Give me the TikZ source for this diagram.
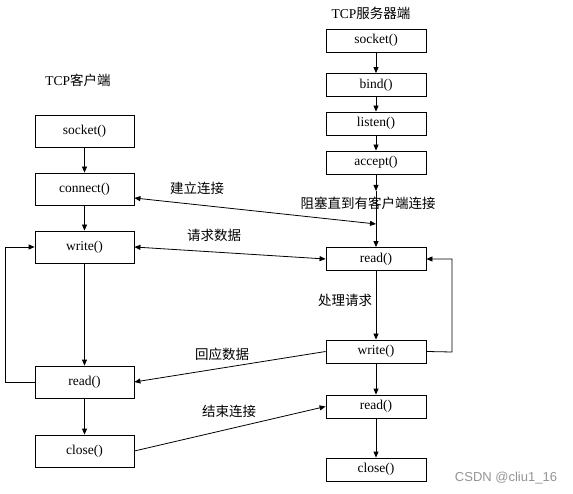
\documentclass[tikz,border=0pt]{standalone}
\usepackage{fontspec}
\setmainfont{Liberation Serif}
\newfontfamily\cjk{Noto Sans CJK SC}
\newfontfamily\wmfont{Liberation Sans}
\usetikzlibrary{arrows.meta,calc}
\begin{document}
\begin{tikzpicture}[x=1pt,y=-1pt,
  line width=0.8pt,
  tip/.style={-{Triangle[length=6pt,width=5pt]}},
  tips/.style={{Triangle[length=6pt,width=5pt]}-{Triangle[length=6pt,width=5pt]}},
  cbox/.style={draw,minimum width=99pt,minimum height=32pt,inner sep=0pt,font=\fontsize{13.5}{15}\selectfont},
  sbox/.style={draw,minimum width=100pt,minimum height=23pt,inner sep=0pt,font=\fontsize{13.5}{15}\selectfont},
  lbl/.style={inner sep=0pt,font=\fontsize{13.5}{15}\selectfont}]
\useasboundingbox (0,0) rectangle (573,494);
% client
\node[lbl] (ctitle) at (78,80) {TCP{\cjk 客户端}};
\node[cbox] (csocket) at (84.5,131) {socket()};
\node[cbox] (cconnect) at (84.5,189) {connect()};
\node[cbox] (cwrite) at (84.5,247) {write()};
\node[cbox] (cread) at (84.5,382) {read()};
\node[cbox] (cclose) at (84.5,451) {close()};
% server
\node[lbl] (stitle) at (371,13) {TCP{\cjk 服务器端}};
\node[sbox] (ssocket) at (376,40.5) {socket()};
\node[sbox] (sbind) at (376,85) {bind()};
\node[sbox] (slisten) at (376,123.5) {listen()};
\node[sbox] (saccept) at (376,162.5) {accept()};
\node[sbox] (sread) at (376,259) {read()};
\node[sbox] (swrite) at (376,351.5) {write()};
\node[sbox] (sread2) at (376,406.5) {read()};
\node[sbox] (sclose) at (376,469.5) {close()};
\coordinate (jt) at (376,191);
\coordinate (jc) at (376,224);
\coordinate (lft) at (5,382);
\coordinate (rgt) at (452,352);
% labels
\node[lbl] (lblock) at (368,203) {\cjk 阻塞直到有客户端连接};
\node[lbl] (lconn) at (197,188) {\cjk 建立连接};
\node[lbl] (lreq) at (214,235) {\cjk 请求数据};
\node[lbl] (lproc) at (345,300) {\cjk 处理请求};
\node[lbl] (lresp) at (222,354) {\cjk 回应数据};
\node[lbl] (lend) at (229,411) {\cjk 结束连接};
\node[inner sep=0pt,text=black!42,font=\wmfont\fontsize{13}{14}\selectfont] (wm) at (506,478) {CSDN @cliu1\_16};
% client chain
\draw[tip] (csocket) -- (cconnect);
\draw[tip] (cconnect) -- (cwrite);
\draw[tip] (cwrite) -- (cread);
\draw[tip] (cread) -- (cclose);
\draw[tip] (cread.west) -- (lft) |- (cwrite.west);
% server chain
\draw[tip] (ssocket) -- (sbind);
\draw[tip] (sbind) -- (slisten);
\draw[tip] (slisten) -- (saccept);
\draw[tip] (saccept) -- (jt);
\draw[tip] (jt) -- (sread);
\draw[tip] (sread) -- (swrite);
\draw[tip] (swrite) -- (sread2);
\draw[tip] (sread2) -- (sclose);
\draw[tip] (swrite.east) -- (rgt) |- (sread.east);
% between
\draw[tips] ([yshift=-9pt]cconnect.east) -- (jc);
\draw[tips] (cwrite.east) -- (sread.west);
\draw[tip] (swrite.west) -- (cread.east);
\draw[tip] (cclose.east) -- (sread2.west);
\end{tikzpicture}
\end{document}
